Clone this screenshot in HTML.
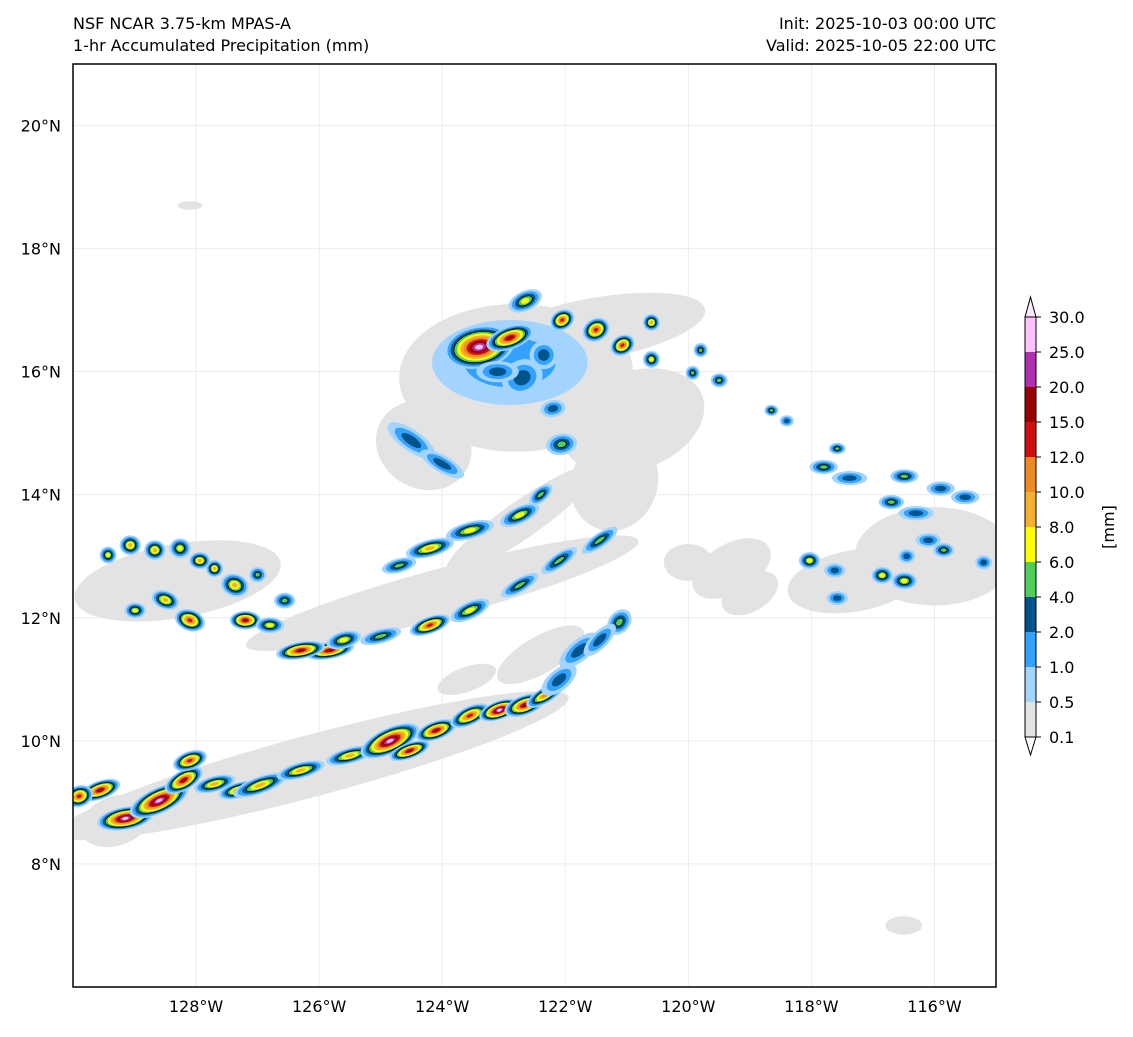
<!DOCTYPE html>
<html><head><meta charset="utf-8"><style>
html,body{margin:0;padding:0;background:#fff;}
svg text{font-family:"DejaVu Sans","Liberation Sans",sans-serif;fill:#000;}
</style></head><body>
<svg id="chart" width="1133" height="1032" viewBox="0 0 1133 1032" xmlns="http://www.w3.org/2000/svg">
<text x="73" y="29" font-size="16">NSF NCAR 3.75-km MPAS-A</text>
<text x="73" y="51" font-size="16">1-hr Accumulated Precipitation (mm)</text>
<text x="996" y="29" font-size="16" text-anchor="end">Init: 2025-10-03 00:00 UTC</text>
<text x="996" y="51" font-size="16" text-anchor="end">Valid: 2025-10-05 22:00 UTC</text>
<defs><clipPath id="clip"><rect x="73" y="64" width="923" height="923"/></clipPath></defs>
<g id="grid"></g>
<g id="field" clip-path="url(#clip)"></g>
<rect x="73" y="64" width="923" height="923" fill="none" stroke="#000" stroke-width="1.5"/>
<g id="axes"></g>
<g id="cbar"></g>
<text font-size="16" transform="translate(1114,527) rotate(-90)" text-anchor="middle">[mm]</text>
</svg>
<script>
const levels = ["0.1","0.5","1.0","2.0","4.0","6.0","8.0","10.0","12.0","15.0","20.0","25.0","30.0"];
const colors = ["#e3e3e3","#a3d3ff","#33a2ff","#00548c","#4fcf5a","#ffff00","#f5b030","#ee8a20","#d01010","#990000","#b030b0","#ffc4ff"];
const lonTicks = [-128,-126,-124,-122,-120,-118,-116];
const latTicks = [8,10,12,14,16,18,20];
const grayLon = [-122.8,-120.9,-121.5,-124.3,-124.0,-122.7,-121.2,-128.3,-126.1,-116.0,-117.3,-119.3,-122.4,-128.1,-121.9,-120.0,-129.3,-123.6,-119.0,-116.5];
const grayLat = [15.9,15.2,16.7,14.8,12.4,13.6,14.2,12.6,9.6,13.0,12.6,12.8,11.4,18.7,16.0,12.9,8.7,11.0,12.4,7.0];
const grayRx  = [1.9,1.2,1.8,0.8,3.3,1.5,0.7,1.7,4.3,1.3,1.1,0.7,0.8,0.2,1.0,0.4,0.6,0.5,0.5,0.3];
const grayRy  = [1.2,0.8,0.5,0.7,0.4,0.3,0.8,0.6,0.5,0.8,0.5,0.4,0.3,0.07,0.9,0.3,0.4,0.2,0.3,0.15];
const grayRot = [0,-20,-10,30,-15,-35,20,-10,-15,0,-10,-30,-30,0,0,0,-20,-20,-30,0];
const cellLon = [-122.9,-123.4,-122.9,-122.35,-122.65,-122.05,-121.5,-121.07,-120.6,-120.6,-119.93,-119.8,-119.5,
 -122.06,-122.2,-122.4,-122.74,-123.55,-124.2,-124.7,-124.5,-124.0,
 -125.83,-126.3,-125.6,-125.0,-124.2,-123.55,-122.74,-122.1,-121.44,
 -129.15,-128.6,-128.2,-128.1,-129.56,-127.3,-126.96,-126.3,-125.5,-124.85,-124.1,-123.55,-123.07,-122.66,-122.33,-124.53,-127.7,
 -121.77,-121.12,-121.44,-122.1,
 -129.43,-129.07,-128.67,-128.26,-128.99,-128.5,-128.1,-127.7,-127.37,-127.2,-126.8,-127.94,-126.56,-129.9,-127.0,
 -118.65,-118.4,-117.58,-117.8,-117.38,-116.49,-116.7,-116.3,-115.9,-115.5,-116.1,-115.85,-118.03,-117.62,-116.85,-116.49,-117.58,-115.2,-116.45,-122.7,-123.1];
const cellLat = [16.15,16.4,16.55,16.27,17.15,16.84,16.68,16.43,16.8,16.2,15.98,16.35,15.86,
 14.82,15.4,14.0,13.67,13.42,13.13,12.85,14.88,14.5,
 11.47,11.47,11.64,11.7,11.88,12.12,12.53,12.93,13.26,
 8.74,9.03,9.36,9.68,9.2,9.2,9.28,9.52,9.76,10.0,10.17,10.41,10.5,10.58,10.74,9.84,9.3,
 11.47,11.93,11.64,10.99,
 13.02,13.18,13.1,13.13,12.12,12.29,11.96,12.8,12.53,11.96,11.88,12.93,12.28,9.1,12.7,
 15.37,15.2,14.75,14.45,14.27,14.3,13.88,13.7,14.1,13.96,13.26,13.1,12.93,12.77,12.69,12.6,12.32,12.9,13.0,15.9,16.0];
const cellRx = [1.1,0.5,0.35,0.2,0.25,0.18,0.2,0.18,0.12,0.12,0.1,0.1,0.12,
 0.15,0.12,0.2,0.3,0.35,0.35,0.25,0.4,0.35,
 0.35,0.35,0.25,0.3,0.3,0.3,0.3,0.3,0.3,
 0.4,0.45,0.3,0.25,0.3,0.3,0.4,0.35,0.35,0.45,0.3,0.3,0.3,0.3,0.3,0.3,0.3,
 0.35,0.2,0.3,0.3,
 0.12,0.15,0.15,0.15,0.15,0.2,0.22,0.12,0.2,0.22,0.2,0.15,0.15,0.2,0.12,
 0.1,0.1,0.12,0.2,0.25,0.2,0.18,0.25,0.2,0.2,0.18,0.15,0.15,0.15,0.15,0.18,0.15,0.12,0.12,0.3,0.3];
const cellRy = [0.6,0.3,0.16,0.2,0.14,0.14,0.16,0.14,0.12,0.12,0.1,0.1,0.1,
 0.22,0.18,0.1,0.12,0.12,0.12,0.1,0.15,0.12,
 0.12,0.12,0.12,0.1,0.12,0.12,0.1,0.1,0.1,
 0.16,0.18,0.14,0.13,0.13,0.11,0.12,0.11,0.11,0.18,0.13,0.13,0.13,0.14,0.11,0.11,0.11,
 0.15,0.15,0.12,0.15,
 0.12,0.14,0.14,0.14,0.11,0.13,0.15,0.12,0.16,0.13,0.11,0.12,0.11,0.15,0.11,
 0.08,0.08,0.08,0.1,0.1,0.1,0.1,0.1,0.1,0.1,0.1,0.1,0.12,0.1,0.12,0.12,0.1,0.1,0.1,0.25,0.15];
const cellRot = [0,-10,-20,0,-25,-30,-30,-30,0,0,0,0,0,
 80,80,-40,-25,-15,-15,-15,35,30,
 -10,-10,-15,-15,-20,-25,-30,-35,-35,
 -10,-25,-30,-20,-20,-15,-20,-15,-15,-25,-20,-25,-20,-20,-30,-20,-15,
 -40,-50,-45,-40,
 0,0,0,0,0,20,20,0,20,0,0,0,0,-20,0,
 0,0,0,0,0,0,0,0,0,0,0,0,0,0,0,0,0,0,0,-30,0];
const cellPeak = [2,11,9,3,5,8,8,8,6,5,4,4,4,
 4,3,4,5,5,6,4,3,3,
 9,9,5,4,8,5,4,4,4,
 11,11,9,8,9,7,6,6,6,11,9,8,11,9,7,9,6,
 3,4,3,3,
 5,6,6,5,5,6,8,6,6,9,5,6,4,8,4,
 4,3,4,4,3,4,4,3,3,3,3,4,5,3,5,5,3,3,3,3,3];

const X = lon => 73 + (lon + 130) * (923 / 15);
const Y = lat => 64 + (21 - lat) * (923 / 15);
const S = 923 / 15;
const NS = "http://www.w3.org/2000/svg";
function el(tag, attrs, parent) {
  const e = document.createElementNS(NS, tag);
  for (const k in attrs) e.setAttribute(k, attrs[k]);
  parent.appendChild(e);
  return e;
}
const grid = document.getElementById('grid');
const field = document.getElementById('field');
const axes = document.getElementById('axes');
const cbar = document.getElementById('cbar');

lonTicks.forEach(t => {
  const l = el('line', {x1: X(t), x2: X(t), y1: 64, y2: 987, stroke: '#ececec', 'stroke-width': 1}, grid);
  
  
  const tx = el('text', {x: X(t), y: 1012, 'font-size': 16, 'text-anchor': 'middle'}, axes);
  tx.textContent = Math.abs(t) + '°W';
  
  
});
latTicks.forEach(t => {
  const l = el('line', {x1: 73, x2: 996, y1: Y(t), y2: Y(t), stroke: '#ececec', 'stroke-width': 1}, grid);
  
  
  const tx = el('text', {x: 61, y: Y(t) + 6, 'font-size': 16, 'text-anchor': 'end'}, axes);
  tx.textContent = t + '°N';
  
  
});

grayLon.forEach((lon, i) => {
  const e = el('ellipse', {cx: X(lon), cy: Y(grayLat[i]), rx: grayRx[i] * S, ry: grayRy[i] * S, fill: colors[0],
    transform: `rotate(${grayRot[i]} ${X(lon)} ${Y(grayLat[i])})`}, field);
  
  
});

cellLon.forEach((lon, i) => {
  const g = el('g', {transform: `rotate(${cellRot[i]} ${X(lon)} ${Y(cellLat[i])})`}, field);
  
  
  const p = cellPeak[i];
  const rx = cellRx[i] * S, ry = cellRy[i] * S;
  for (let k = 1; k <= p; k++) {
    const f = 1.15 * Math.pow(1 - (k - 1) / (p + 0.6), 1.1);
    const a = {cx: X(lon), cy: Y(cellLat[i]), rx: Math.max(1.5, rx * f), ry: Math.max(1.5, ry * f), fill: colors[k]};
    if (k === 4) { a.stroke = '#000'; a['stroke-width'] = 0.8; }
    const e = el('ellipse', a, g);
    
    
  }
});

const cbX = 1025, cbW = 11, cbBottom = 737, cbStep = 35;
colors.forEach((c, i) => {
  const r = el('rect', {x: cbX, y: cbBottom - (i + 1) * cbStep, width: cbW, height: cbStep, fill: c}, cbar);
  
  
});
const cbTop = cbBottom - colors.length * cbStep;
const tri1 = el('polygon', {points: `${cbX},${cbTop} ${cbX + cbW / 2},${cbTop - 20} ${cbX + cbW},${cbTop}`, fill: '#ffe6ff', stroke: '#000', 'stroke-width': 1}, cbar);


const tri2 = el('polygon', {points: `${cbX},${cbBottom} ${cbX + cbW / 2},${cbBottom + 18} ${cbX + cbW},${cbBottom}`, fill: '#fff', stroke: '#000', 'stroke-width': 1}, cbar);


const ob = el('rect', {x: cbX, y: cbTop, width: cbW, height: cbBottom - cbTop, fill: 'none', stroke: '#000', 'stroke-width': 1}, cbar);


levels.forEach((lv, i) => {
  const y = cbBottom - i * cbStep;
  const tk = el('line', {x1: cbX + cbW, x2: cbX + cbW + 5, y1: y, y2: y, stroke: '#000', 'stroke-width': 1}, cbar);
  
  
  const t = el('text', {x: 1049, y: y + 6, 'font-size': 16}, cbar);
  t.textContent = lv;
  
  
});
</script>
</body></html>
